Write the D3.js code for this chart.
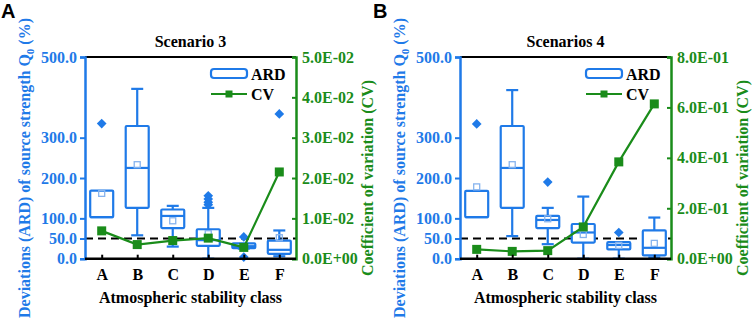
<!DOCTYPE html>
<html><head><meta charset="utf-8">
<script src="https://cdn.jsdelivr.net/npm/d3@7/dist/d3.min.js"></script>
<style>body{margin:0;background:#fff}svg{display:block}</style>
</head><body>
<script>
const categories = ["A","B","C","D","E","F"];
const ardTicks = [0,50,100,200,300,500];

// Scenario 3
const s3Low    = [103, 58, 30, 0, 25, 6];
const s3Q1     = [103, 126, 76, 32, 26, 12];
const s3Median = [103, 225, 106, 46, 31, 22];
const s3Q3     = [169, 329, 122, 73, 38, 45];
const s3High   = [169, 421, 131, 126, 38, 70];
const s3Mean   = [162, 233, 94, 62, 30, 52];
const s3Outliers = [[335], [], [], [156, 148, 140, 134], [54, 4], [359]];
const s3CV     = [0.0069, 0.0035, 0.0045, 0.0051, 0.0028, 0.0215];
const s3CVTicks = [0, 0.01, 0.02, 0.03, 0.04, 0.05];

// Scenarios 4
const s4Low    = [103, 56, 36, 0, 0, 3];
const s4Q1     = [103, 126, 76, 40, 23, 8];
const s4Median = [103, 225, 96, 65, 34, 27];
const s4Q3     = [168, 329, 106, 86, 41, 70];
const s4High   = [168, 418, 126, 154, 41, 102];
const s4Mean   = [178, 233, 99, 60, 33, 38];
const s4Outliers = [[334], [], [190], [], [65], []];
const s4CV     = [0.037, 0.029, 0.032, 0.126, 0.384, 0.614];
const s4CVTicks = [0, 0.2, 0.4, 0.6, 0.8];

const BLUE = "#1f7ae8", GREEN = "#1a8c1a", LIGHT = "#86b3ee";
const FONT = "'Liberation Serif','DejaVu Serif',serif";

const svg = d3.select("body").append("svg").attr("width",754).attr("height",320)
  .attr("font-family", FONT);

function sci(v){
  if (v === 0) return "0.0E+00";
  const e = Math.floor(Math.log10(Math.abs(v)) + 1e-9);
  const m = v / Math.pow(10, e);
  const s = e < 0 ? "-" : "+";
  return m.toFixed(1) + "E" + s + String(Math.abs(e)).padStart(2,"0");
}

function panel(ox, letter, title, low, q1, med, q3, high, mean, outl, cv, cvTicks, labOx){
  const L = 85 + ox, R = 296 + ox, T = 57, B = 258.7;
  const x = d3.scalePoint().domain(categories).range([L, R]).padding(0.47);
  const y = d3.scaleLinear().domain([0, 500]).range([B, T]);
  const yr = d3.scaleLinear().domain([0, d3.max(cvTicks)]).range([B, T]);
  const g = svg.append("g").attr("font-family", FONT);

  g.append("text").attr("x", ox + 1 + (labOx||0)).attr("y", 18).text(letter)
    .attr("font-family","'Liberation Sans',Arial,sans-serif").attr("font-weight","bold").attr("font-size","20px");

  g.append("text").attr("x", (L+R)/2).attr("y", 47).attr("text-anchor","middle")
    .attr("font-weight","bold").attr("font-size","16px").text(title);

  g.append("line").attr("x1",L).attr("x2",R).attr("y1",T).attr("y2",T).attr("stroke","#000").attr("stroke-width",2);

  g.append("line").attr("x1",L).attr("x2",R).attr("y1",y(50)).attr("y2",y(50))
    .attr("stroke","#000").attr("stroke-width",2).attr("stroke-dasharray","8,5");

  const bw = 23, cw = 12;
  categories.forEach((c,i)=>{
    const cx = x(c);
    const bg = g.append("g").attr("stroke", BLUE).attr("stroke-width",2.2).attr("fill","none");
    bg.append("line").attr("x1",cx).attr("x2",cx).attr("y1",y(q3[i])).attr("y2",y(high[i]));
    bg.append("line").attr("x1",cx).attr("x2",cx).attr("y1",y(q1[i])).attr("y2",y(low[i]));
    if (high[i] > q3[i]) bg.append("line").attr("x1",cx-cw/2).attr("x2",cx+cw/2).attr("y1",y(high[i])).attr("y2",y(high[i]));
    if (low[i] < q1[i]) bg.append("line").attr("x1",cx-cw/2).attr("x2",cx+cw/2).attr("y1",y(low[i])).attr("y2",y(low[i]));
    bg.append("rect").attr("x",cx-bw/2).attr("width",bw).attr("y",y(q3[i])).attr("height",y(q1[i])-y(q3[i]))
      .attr("fill","#fff").attr("rx",1);
    bg.append("line").attr("x1",cx-bw/2).attr("x2",cx+bw/2).attr("y1",y(med[i])).attr("y2",y(med[i]));
    g.append("rect").attr("x",cx-3).attr("y",y(mean[i])-3).attr("width",6).attr("height",6)
      .attr("fill","none").attr("stroke",LIGHT).attr("stroke-width",1.3);
    outl[i].forEach(v=>{
      g.append("path").attr("d", d3.symbol(d3.symbolDiamond2, 60)()).attr("transform",`translate(${cx},${y(v)})`)
        .attr("fill", BLUE);
    });
  });

  const line = d3.line().x((d,i)=>x(categories[i])).y(d=>yr(d));
  g.append("path").datum(cv).attr("d",line).attr("fill","none").attr("stroke",GREEN).attr("stroke-width",2.2);
  g.selectAll(null).data(cv).enter().append("rect")
    .attr("x",(d,i)=>x(categories[i])-4.5).attr("y",d=>yr(d)-4.5).attr("width",9).attr("height",9).attr("fill",GREEN);

  const ax = g.append("g").attr("transform",`translate(${L},0)`)
    .call(d3.axisLeft(y).tickValues(ardTicks).tickFormat(d3.format(".1f")).tickSizeOuter(0).tickSize(5).tickPadding(3));
  ax.attr("font-family",FONT).attr("font-size",16).attr("font-weight","bold");
  ax.select(".domain").attr("stroke",BLUE).attr("stroke-width",2.5);
  ax.selectAll(".tick line").attr("stroke",BLUE).attr("stroke-width",2);
  ax.selectAll("text").attr("fill",BLUE);

  const ar = g.append("g").attr("transform",`translate(${R},0)`)
    .call(d3.axisRight(yr).tickValues(cvTicks).tickFormat(sci).tickSizeOuter(0).tickSize(-4).tickPadding(6));
  ar.attr("font-family",FONT).attr("font-size",16).attr("font-weight","bold");
  ar.select(".domain").attr("stroke",GREEN).attr("stroke-width",2.5);
  ar.selectAll(".tick line").attr("stroke",GREEN).attr("stroke-width",2);
  ar.selectAll("text").attr("fill",GREEN);

  const axb = g.append("g").attr("transform",`translate(0,${B})`)
    .call(d3.axisBottom(x).tickSizeOuter(0).tickSize(-4).tickPadding(10));
  axb.attr("font-family",FONT).attr("font-size",16).attr("font-weight","bold");
  axb.select(".domain").attr("stroke","#000").attr("stroke-width",2.5).attr("d",`M${L},0H${R}`);
  axb.selectAll(".tick line").attr("stroke","#000").attr("stroke-width",2);
  axb.selectAll("text").attr("fill","#000");

  g.append("text").attr("x",(L+R)/2).attr("y",303).attr("text-anchor","middle")
    .attr("font-weight","bold").attr("font-size","16px").text("Atmospheric stability class");

  const lt = g.append("text").attr("transform",`translate(${L-55},168) rotate(-90)`).attr("text-anchor","middle")
    .attr("fill",BLUE).attr("font-weight","bold").attr("font-size","16px");
  lt.append("tspan").text("Deviations (ARD) of source strength Q");
  lt.append("tspan").attr("dy",4).attr("font-size","11px").text("0");
  lt.append("tspan").attr("dy",-4).text(" (%)");

  g.append("text").attr("transform",`translate(${R+77},178) rotate(-90)`).attr("text-anchor","middle")
    .attr("fill",GREEN).attr("font-weight","bold").attr("font-size","16px").text("Coefficient of variation (CV)");

  const lx = L + 126;
  g.append("rect").attr("x",lx).attr("y",69).attr("width",36).attr("height",9).attr("rx",3)
    .attr("fill","#fff").attr("stroke",BLUE).attr("stroke-width",2.2);
  g.append("text").attr("x",lx+40).attr("y",80).attr("font-weight","bold").attr("font-size","16px").text("ARD");
  g.append("line").attr("x1",lx).attr("x2",lx+36).attr("y1",94).attr("y2",94).attr("stroke",GREEN).attr("stroke-width",2.2);
  g.append("rect").attr("x",lx+14.5).attr("y",90.5).attr("width",7).attr("height",7).attr("fill",GREEN);
  g.append("text").attr("x",lx+40).attr("y",100).attr("font-weight","bold").attr("font-size","16px").text("CV");
}

panel(0, "A", "Scenario 3", s3Low, s3Q1, s3Median, s3Q3, s3High, s3Mean, s3Outliers, s3CV, s3CVTicks, 0);
panel(375, "B", "Scenarios 4", s4Low, s4Q1, s4Median, s4Q3, s4High, s4Mean, s4Outliers, s4CV, s4CVTicks, -3);
</script>
</body></html>
